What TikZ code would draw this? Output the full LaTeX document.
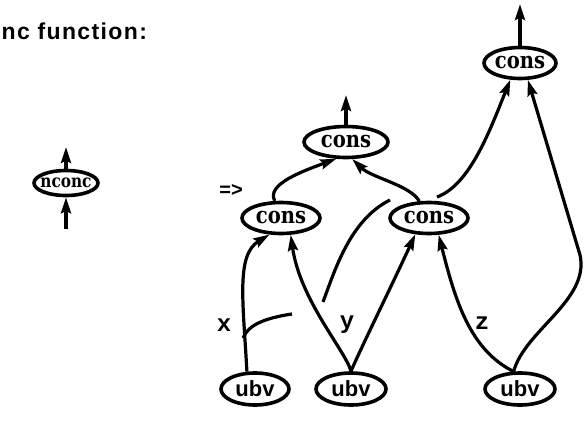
\documentclass[tikz,border=0pt]{standalone}
\usepackage{fontspec}
\setmainfont{DejaVu Serif}
\setsansfont{Liberation Sans}
\setmonofont{Liberation Mono}
\newfontfamily\titlefont[LetterSpace=6]{Liberation Sans}
\newfontfamily\consfont[FakeStretch=0.85]{DejaVu Serif}
\usetikzlibrary{shapes.geometric,arrows.meta}
\begin{document}
\begin{tikzpicture}[x=1pt,y=-1pt,line width=3.2pt,>={Stealth[length=16pt,width=10pt,inset=2.5pt]},
cons node/.style={ellipse,draw,line width=3.6pt,inner sep=-8pt,minimum width=78pt,minimum height=31pt,font=\consfont\bfseries\fontsize{23}{26}\selectfont},
ubv node/.style={ellipse,draw,line width=3.6pt,inner sep=-8pt,minimum width=68pt,minimum height=32pt,font=\sffamily\bfseries\fontsize{22}{24}\selectfont},
var label/.style={font=\ttfamily\bfseries\fontsize{24}{26}\selectfont}]
\useasboundingbox (0,0) rectangle (587,423);
\begin{scope}
\node[anchor=west,inner sep=0pt,font=\titlefont\bfseries\fontsize{23}{26}\selectfont] (title) at (0,31) {nc function:};
\node[cons node,minimum width=64pt,minimum height=25pt,font=\consfont\bfseries\fontsize{18}{20}\selectfont] (n1) at (66,183) {nconc};
\node[font=\sffamily\bfseries\fontsize{20}{22}\selectfont] (imp) at (231,190) {=>};
\node[cons node] (c1) at (281,218) {cons};
\node[cons node] (c2) at (429,218) {cons};
\node[cons node,minimum width=84pt,minimum height=31pt] (c3) at (346,142) {cons};
\node[cons node,minimum width=72pt] (c4) at (520,63) {cons};
\node[ubv node] (u1) at (255,389) {ubv};
\node[ubv node,minimum width=70pt] (u2) at (351,389) {ubv};
\node[ubv node,minimum width=70pt] (u3) at (520,389) {ubv};
\node[var label] (lx) at (224,325) {x};
\node[var label] (ly) at (347,325) {y};
\node[var label] (lz) at (482,323) {z};
%free ends
\coordinate (n1in) at (66,229);
\coordinate (n1out) at (66,147);
\coordinate (c3out) at (346,95);
\coordinate (c4out) at (520,4);
\coordinate (xfork) at (243,338);
\coordinate (gx1) at (292,314);
\coordinate (gx2) at (323,302);
\coordinate (gx3) at (390,200);
\coordinate (gx4) at (437,197);
\end{scope}
\begin{scope}
\draw[->] (n1.north) -- (n1out);
\draw[->] (n1in) -- (n1.south);
\draw[->] (c3.north) -- (c3out);
\draw[->] (c4.north) -- (c4out);
\draw[->] (c1.110) .. controls (266,185) and (300,172) .. (c3.240);
\draw[->] (c2.120) .. controls (410,185) and (372,178) .. (c3.290);
\draw[->] (u1.115) .. controls (243,300) and (236,255) .. (c1.235);
\draw (xfork) .. controls (248,325) and (265,318) .. (gx1);
\draw (gx2) .. controls (335,270) and (350,220) .. (gx3);
\draw[->] (gx4) .. controls (470,185) and (490,130) .. (c4.240);
\draw[->] (u2.north) .. controls (345,350) and (300,300) .. (c1.300);
\draw[->] (u2.north) .. controls (360,350) and (392,285) .. (c2.230);
\draw[->] (u3.110) .. controls (470,350) and (455,300) .. (c2.300);
\draw[->] (u3.110) .. controls (525,330) and (590,300) .. (580,255) -- (c4.295);
\end{scope}
\end{tikzpicture}
\end{document}
